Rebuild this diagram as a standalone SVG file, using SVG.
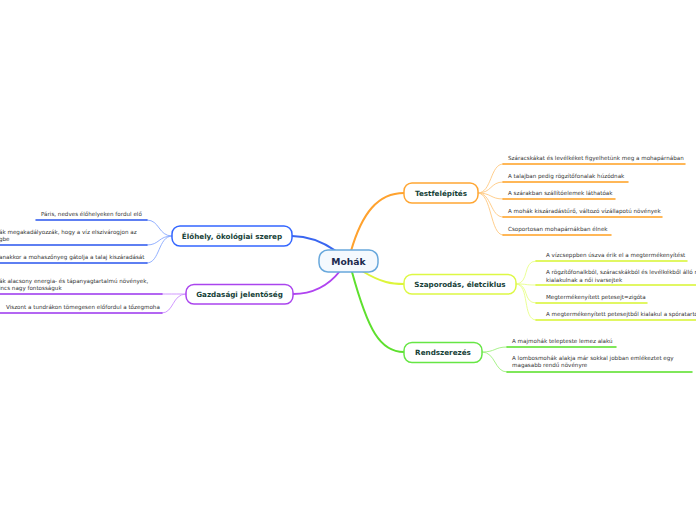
<svg xmlns="http://www.w3.org/2000/svg" width="696" height="520" viewBox="0 0 696 520">
<style>
.node{fill:#fff;stroke-width:1.5}
.nt{font-family:"DejaVu Sans","Verdana",sans-serif;font-weight:bold;font-size:7.2px;fill:#163f38;text-anchor:middle}
.lt{font-family:"DejaVu Sans","Verdana",sans-serif;font-size:5.6px;fill:#333}
.c{fill:none;stroke-linecap:round}
.m{stroke-width:2}
.l{stroke-width:0.9}
.u{stroke-width:1.5}
</style>
<rect width="696" height="520" fill="#fff"/>
<g id="connectors">
  <path class="c m" stroke="#ffa22e" d="M351,251 C362,213 378,193 404,193"/>
  <path class="c m" stroke="#ddf53a" d="M362,271 C382,283 392,284 404,284"/>
  <path class="c m" stroke="#5ee02e" d="M352,272 C368,330 380,352 404,352"/>
  <path class="c m" stroke="#3a66f0" d="M336,251 C320,240 306,236 292,236"/>
  <path class="c m" stroke="#b044f0" d="M340,271 C325,290 306,294 293,294"/>
  <!-- Testfelépítés leaves -->
  <g stroke="#ffc880" class="c l">
    <path d="M478,193 C492,193 490,164 503,164"/>
    <path d="M478,193 C492,193 490,182 503,182"/>
    <path d="M478,193 C492,193 490,199 503,199"/>
    <path d="M478,193 C492,193 490,217 503,217"/>
    <path d="M478,193 C492,193 490,235 503,235"/>
  </g>
  <g stroke="#ffa020" class="c u">
    <path d="M503,164 H685"/>
    <path d="M503,182 H628"/>
    <path d="M503,199 H615"/>
    <path d="M503,217 H662"/>
    <path d="M503,235 H611"/>
  </g>
  <!-- Szaporodás leaves -->
  <g stroke="#e8ff88" class="c l">
    <path d="M516,284 C530,284 522,261 536,261"/>
    <path d="M516,284 C530,284 522,285 536,285"/>
    <path d="M516,284 C530,284 522,303 536,303"/>
    <path d="M516,284 C530,284 522,320 536,320"/>
  </g>
  <g stroke="#d8f530" class="c u">
    <path d="M536,261 H687"/>
    <path d="M536,285 H698"/>
    <path d="M536,303 H647"/>
    <path d="M536,320 H698"/>
  </g>
  <!-- Rendszerezés leaves -->
  <g stroke="#9ef07e" class="c l">
    <path d="M482,352 C496,352 494,347 507,347"/>
    <path d="M482,352 C496,352 494,372 507,372"/>
  </g>
  <g stroke="#55e024" class="c u">
    <path d="M507,347 H616"/>
    <path d="M507,372 H692"/>
  </g>
  <!-- Élőhely leaves -->
  <g stroke="#88a8ff" class="c l">
    <path d="M172,236 C158,236 160,220 147,220"/>
    <path d="M172,236 C158,236 160,245 147,245"/>
    <path d="M172,236 C158,236 160,263 147,263"/>
  </g>
  <g stroke="#2a55ee" class="c u">
    <path d="M147,220 H36"/>
    <path d="M147,245 H-2"/>
    <path d="M147,263 H-2"/>
  </g>
  <!-- Gazdasági leaves -->
  <g stroke="#cc8cff" class="c l">
    <path d="M186,294 C174,294 174,294 162,294"/>
    <path d="M186,294 C172,294 174,313 162,313"/>
  </g>
  <g stroke="#9a35ee" class="c u">
    <path d="M162,294 H-2"/>
    <path d="M162,313 H-2"/>
  </g>
</g>
<g id="mohak">
  <rect x="319" y="250" width="59" height="22" rx="9" fill="#f4f9fe" stroke="#68a8dc" stroke-width="1.5"/>
  <text x="348.5" y="264.5" font-family="DejaVu Sans, Verdana, sans-serif" font-weight="bold" font-size="9.2" fill="#1b2a4e" text-anchor="middle">Mohák</text>
</g>
<g id="testfelepites">
  <rect class="node" x="404" y="183" width="74" height="20" rx="8" stroke="#ffa633"/>
  <text class="nt" x="441" y="195.6">Testfelépítés</text>
</g>
<g id="szaporodas">
  <rect class="node" x="404" y="274.5" width="112" height="19.5" rx="8" stroke="#ddf844"/>
  <text class="nt" x="460" y="287">Szaporodás, életciklus</text>
</g>
<g id="rendszerezes">
  <rect class="node" x="404" y="342.5" width="78" height="20" rx="8" stroke="#66e644"/>
  <text class="nt" x="443" y="355">Rendszerezés</text>
</g>
<g id="elohely">
  <rect class="node" x="172" y="226" width="120" height="20" rx="8" stroke="#3366ff"/>
  <text class="nt" x="232" y="238.6">Élőhely, ökológiai szerep</text>
</g>
<g id="gazdasagi">
  <rect class="node" x="186" y="284.5" width="107" height="19.5" rx="8" stroke="#aa44ee"/>
  <text class="nt" x="239.5" y="297">Gazdasági jelentőség</text>
</g>
<g id="leaves-testfelepites">
  <text class="lt" x="508" y="159.5">Száracskákat és levélkéket figyelhetünk meg a mohapárnában</text>
  <text class="lt" x="508" y="177.5">A talajban pedig rögzítőfonalak húzódnak</text>
  <text class="lt" x="508" y="194.5">A szárakban szállítóelemek láthatóak</text>
  <text class="lt" x="508" y="212.5">A mohák kiszáradástűrő, változó vízállapotú növények</text>
  <text class="lt" x="508" y="230.5">Csoportosan mohapárnákban élnek</text>
</g>
<g id="leaves-szaporodas">
  <text class="lt" x="546" y="256.5">A vízcseppben úszva érik el a megtermékenyítést</text>
  <text class="lt" x="546" y="274">A rögzítőfonalkból, száracskákból és levélkékből álló n</text>
  <text class="lt" x="546" y="281.5">kialakulnak a női ivarsejtek</text>
  <text class="lt" x="546" y="298.5">Megtermékenyített petesejt=zigóta</text>
  <text class="lt" x="546" y="315.5">A megtermékenyített petesejtből kialakul a spóratartó</text>
</g>
<g id="leaves-rendszerezes">
  <text class="lt" x="512" y="342.5">A majmohák telepteste lemez alakú</text>
  <text class="lt" x="512" y="359.5">A lombosmohák alakja már sokkal jobban emlékeztet egy</text>
  <text class="lt" x="512" y="367">magasabb rendű növényre</text>
</g>
<g id="leaves-elohely">
  <text class="lt" x="41" y="215.5">Páris, nedves élőhelyeken fordul elő</text>
  <text class="lt" x="-1" y="233.5">ák megakadályozzák, hogy a víz elszivárogjon az</text>
  <text class="lt" x="-1" y="241">gbe</text>
  <text class="lt" x="-1" y="258.5">anakkor a mohaszőnyeg gátolja a talaj kiszáradását</text>
</g>
<g id="leaves-gazdasagi">
  <text class="lt" x="-1" y="282.5">ák alacsony energia- és tápanyagtartalmú növények,</text>
  <text class="lt" x="-1" y="290">incs nagy fontosságuk</text>
  <text class="lt" x="6" y="308.5">Viszont a tundrákon tömegesen előfordul a tőzegmoha</text>
</g>
</svg>
